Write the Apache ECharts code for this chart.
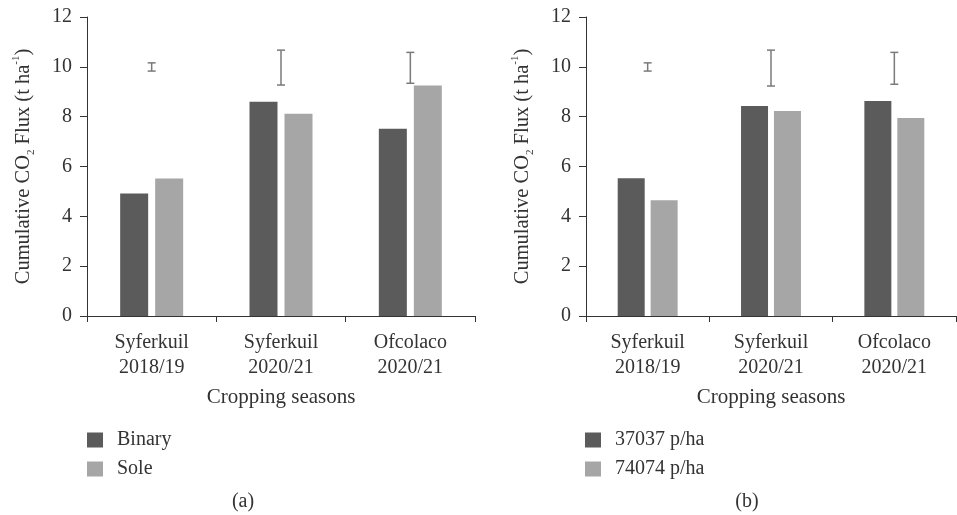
<!DOCTYPE html>
<html><head><meta charset="utf-8">
<script src="https://cdn.jsdelivr.net/npm/echarts@6/dist/echarts.min.js"></script>
<style>html,body{margin:0;padding:0;background:#fff}#c{width:957px;height:515px}</style>
</head><body><div id="c"></div>
<script>
const categories = ['Syferkuil\n2018/19', 'Syferkuil\n2020/21', 'Ofcolaco\n2020/21'];
const yTicks = { min: 0, max: 12, interval: 2 };
// Panel (a)
const binary = [4.92, 8.60, 7.52];
const sole = [5.52, 8.12, 9.25];
const errLowA = [9.83, 9.27, 9.34];
const errHighA = [10.16, 10.67, 10.58];
// Panel (b)
const dens37037 = [5.53, 8.43, 8.63];
const dens74074 = [4.65, 8.23, 7.95];
const errLowB = [9.83, 9.23, 9.30];
const errHighB = [10.16, 10.67, 10.58];

const FONT = 'Liberation Serif';
const TXT = '#333';
const DARK = '#5a5b5a';
const LIGHT = '#a6a6a6';
const ERR = '#7a7a7a';

const chart = echarts.init(document.getElementById('c'));

function yAxis(gridIndex) {
  return {
    type: 'value', gridIndex, min: yTicks.min, max: yTicks.max, interval: yTicks.interval,
    splitLine: { show: false },
    axisLine: { show: true, lineStyle: { color: '#333', width: 1 } },
    axisTick: { show: true, length: 7, lineStyle: { color: '#333' } },
    axisLabel: { color: TXT, fontFamily: FONT, fontSize: 20, margin: 15 },
    name: '{a|Cumulative CO}{sub|2}{a| Flux (t ha}{sup|-1}{a|)}',
    nameLocation: 'middle', nameGap: 50, nameRotate: 90,
    nameTextStyle: {
      rich: {
        a: { fontFamily: FONT, fontSize: 20.5, color: TXT, lineHeight: 26 },
        sub: { fontFamily: FONT, fontSize: 11, color: TXT, lineHeight: 11, verticalAlign: 'bottom' },
        sup: { fontFamily: FONT, fontSize: 11, color: TXT, lineHeight: 11, verticalAlign: 'top' }
      }
    }
  };
}
function xAxis(gridIndex) {
  return {
    type: 'category', gridIndex, data: categories,
    axisLine: { show: true, lineStyle: { color: '#333', width: 1 } },
    axisTick: { show: true, length: 6, lineStyle: { color: '#333' } },
    axisLabel: { color: TXT, fontFamily: FONT, fontSize: 20, lineHeight: 25, margin: 14 },
    name: 'Cropping seasons', nameLocation: 'middle', nameGap: 64,
    nameTextStyle: { color: TXT, fontFamily: FONT, fontSize: 21, lineHeight: 25 }
  };
}
function errSeries(idx, low, high) {
  return {
    type: 'custom', name: 'err' + idx, xAxisIndex: idx, yAxisIndex: idx,
    data: low.map((l, i) => [i, l, high[i]]),
    renderItem: function (params, api) {
      const i = api.value(0);
      const p1 = api.coord([i, api.value(1)]);
      const p2 = api.coord([i, api.value(2)]);
      const w = 4;
      const st = { stroke: ERR, lineWidth: 1.5 };
      return {
        type: 'group', children: [
          { type: 'line', shape: { x1: p1[0], y1: p1[1], x2: p2[0], y2: p2[1] }, style: st },
          { type: 'line', shape: { x1: p1[0] - w, y1: p1[1], x2: p1[0] + w, y2: p1[1] }, style: st },
          { type: 'line', shape: { x1: p2[0] - w, y1: p2[1], x2: p2[0] + w, y2: p2[1] }, style: st }
        ]
      };
    },
    z: 5
  };
}

chart.setOption({
  animation: false,
  textStyle: { fontFamily: FONT },
  grid: [
    { left: 87, top: 17, width: 388, height: 299 },
    { left: 586, top: 17, width: 370, height: 299 }
  ],
  xAxis: [xAxis(0), xAxis(1)],
  yAxis: [yAxis(0), yAxis(1)],
  legend: [
    {
      data: ['Binary', 'Sole'], orient: 'vertical', left: 82, top: 425,
      itemWidth: 16, itemHeight: 15, itemGap: 9, icon: 'rect',
      textStyle: { color: TXT, fontFamily: FONT, fontSize: 20, padding: [0, 0, 0, 9] }
    },
    {
      data: ['37037 p/ha', '74074 p/ha'], orient: 'vertical', left: 580, top: 425,
      itemWidth: 16, itemHeight: 15, itemGap: 9, icon: 'rect',
      textStyle: { color: TXT, fontFamily: FONT, fontSize: 20, padding: [0, 0, 0, 9] }
    }
  ],
  graphic: [
    { type: 'text', x: 243, y: 502, style: { text: '(a)', font: '20px "Liberation Serif"', fill: TXT, textAlign: 'center', textVerticalAlign: 'middle' } },
    { type: 'text', x: 747, y: 502, style: { text: '(b)', font: '20px "Liberation Serif"', fill: TXT, textAlign: 'center', textVerticalAlign: 'middle' } }
  ],
  series: [
    { type: 'bar', name: 'Binary', xAxisIndex: 0, yAxisIndex: 0, data: binary, barWidth: 28, barGap: '25%', itemStyle: { color: DARK } },
    { type: 'bar', name: 'Sole', xAxisIndex: 0, yAxisIndex: 0, data: sole, barWidth: 28, barGap: '25%', itemStyle: { color: LIGHT } },
    { type: 'bar', name: '37037 p/ha', xAxisIndex: 1, yAxisIndex: 1, data: dens37037, barWidth: 27, barGap: '22%', itemStyle: { color: DARK } },
    { type: 'bar', name: '74074 p/ha', xAxisIndex: 1, yAxisIndex: 1, data: dens74074, barWidth: 27, barGap: '22%', itemStyle: { color: LIGHT } },
    errSeries(0, errLowA, errHighA),
    errSeries(1, errLowB, errHighB)
  ]
});
</script></body></html>
